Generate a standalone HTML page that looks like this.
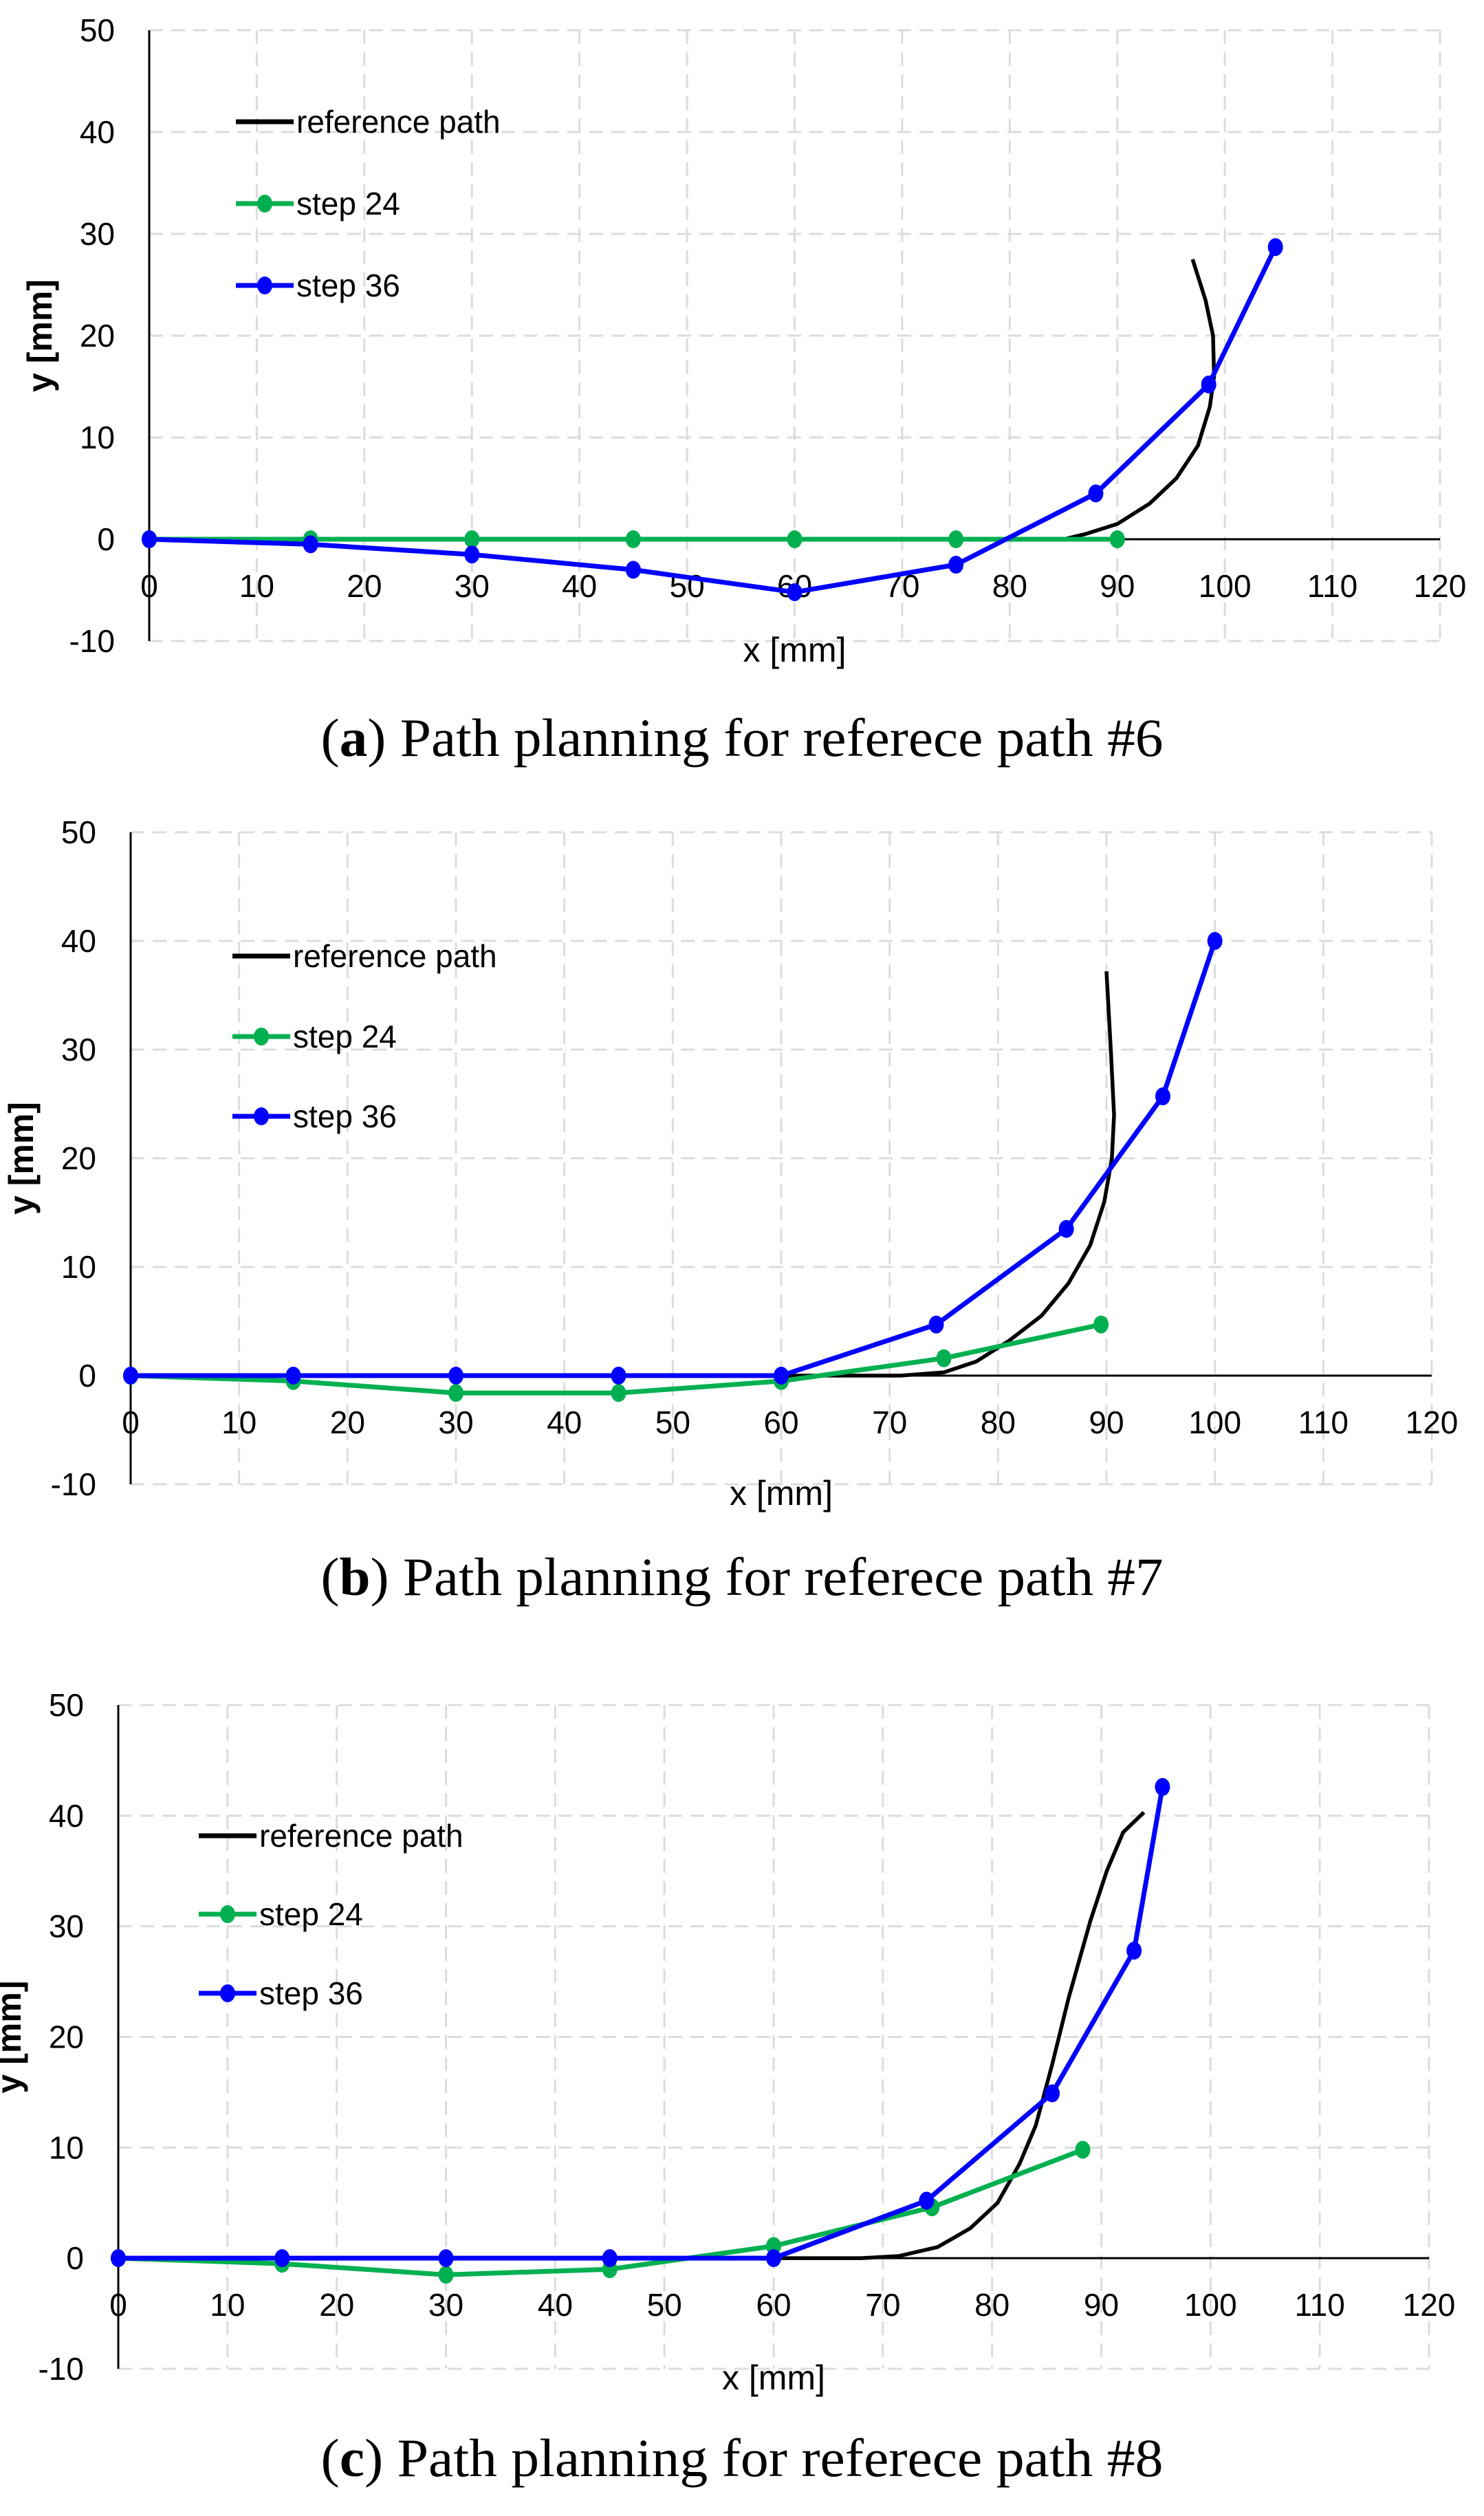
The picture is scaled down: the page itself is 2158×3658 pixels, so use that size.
<!DOCTYPE html>
<html><head><meta charset="utf-8"><style>
html,body{margin:0;padding:0;background:#fff;}
svg{display:block;}
text{font-family:"Liberation Sans",sans-serif;}
</style></head><body>
<svg id="fig" width="2158" height="3658" viewBox="0 0 2158 3658" xmlns="http://www.w3.org/2000/svg"></svg>
<script>
// Chart a data (reference path #6)
const aRefX = [0, 85, 87, 90, 93, 95.5, 97.5, 98.6, 99, 98.9, 98.2, 97];
const aRefY = [0, 0, 0.5, 1.5, 3.5, 6, 9.2, 13, 16, 20, 23.5, 27.5];
const aS24X = [0, 15, 30, 45, 60, 75, 90];
const aS24Y = [0, 0, 0, 0, 0, 0, 0];
const aS36X = [0, 15, 30, 45, 60, 75, 88, 98.5, 104.7];
const aS36Y = [0, -0.5, -1.5, -3, -5.2, -2.5, 4.5, 15.2, 28.7];
// Chart b data (reference path #7)
const bRefX = [60, 71, 75, 78, 81, 84, 86.5, 88.5, 89.8, 90.5, 90.7, 90.4, 90];
const bRefY = [0, 0, 0.3, 1.3, 3.2, 5.5, 8.5, 12, 16, 20, 24, 30, 37.2];
const bS24X = [0, 15, 30, 45, 60, 75, 89.5];
const bS24Y = [0, -0.5, -1.6, -1.6, -0.5, 1.6, 4.7];
const bS36X = [0, 15, 30, 45, 60, 74.3, 86.3, 95.2, 100];
const bS36Y = [0, 0, 0, 0, 0, 4.7, 13.5, 25.7, 40];
// Chart c data (reference path #8)
const cRefX = [60, 68, 71.5, 75, 78, 80.5, 82.5, 84, 85.5, 87, 89, 90.5, 92, 93.9];
const cRefY = [0, 0, 0.2, 1, 2.7, 5, 8.5, 12, 17.5, 23.5, 30.5, 35, 38.5, 40.3];
const cS24X = [0, 15, 30, 45, 60, 74.5, 88.3];
const cS24Y = [0, -0.5, -1.5, -1, 1.1, 4.6, 9.8];
const cS36X = [0, 15, 30, 45, 60, 74, 85.5, 93, 95.6];
const cS36Y = [0, 0, 0, 0, 0, 5.2, 14.9, 27.8, 42.6];
// Axis ticks
const xTicks = [0,10,20,30,40,50,60,70,80,90,100,110,120];
const yTicks = [-10,0,10,20,30,40,50];
const legendLabels = ["reference path","step 24","step 36"];
const captionLetters = ["a","b","c"];
const captionTexts = [") Path planning for referece path #6", ") Path planning for referece path #7", ") Path planning for referece path #8"];

const NS = "http://www.w3.org/2000/svg";
const svg = document.getElementById('fig');
function mk(tag, attrs, parent){
  const e = document.createElementNS(NS, tag);
  for (const k in attrs) e.setAttribute(k, attrs[k]);
  (parent||svg).appendChild(e);
  return e;
}
const panels = [
  {key:'a', x0:217, x1:2094, yTop:44, yBot:932, ref:[aRefX,aRefY], s24:[aS24X,aS24Y], s36:[aS36X,aS36Y], leg:[343,[177,296,415]], cap:1073},
  {key:'b', x0:190, x1:2082, yTop:1210, yBot:2158, ref:[bRefX,bRefY], s24:[bS24X,bS24Y], s36:[bS36X,bS36Y], leg:[338,[1390,1507,1623]], cap:2293},
  {key:'c', x0:172, x1:2078, yTop:2479, yBot:3444, ref:[cRefX,cRefY], s24:[cS24X,cS24Y], s36:[cS36X,cS36Y], leg:[289,[2669,2783,2898]], cap:3574}
];
panels.forEach((p, idx) => {
  const g = mk('g', {});
  
  
  const sx = v => p.x0 + (v - 0) / 120 * (p.x1 - p.x0);
  const sy = v => p.yBot - (v + 10) / 60 * (p.yBot - p.yTop);
  const grid = mk('g', {stroke:'#dcdcdc','stroke-width':3,'stroke-dasharray':'20 12',fill:'none'}, g);
  
  
  xTicks.forEach(t => { if (t>0) mk('line', {x1:sx(t),x2:sx(t),y1:sy(50),y2:sy(-10)}, grid); });
  yTicks.forEach(t => { if (t!==0) mk('line', {x1:p.x0,x2:p.x1,y1:sy(t),y2:sy(t)}, grid); });
  const yAxis = mk('line', {x1:p.x0,x2:p.x0,y1:sy(50),y2:sy(-10),stroke:'#000','stroke-width':3}, g);
  
  
  const xAxis = mk('line', {x1:p.x0,x2:p.x1,y1:sy(0),y2:sy(0),stroke:'#000','stroke-width':3}, g);
  
  
  xTicks.forEach(t => {
    const tx = mk('text', {x:sx(t), y:sy(0)+84, 'font-size':46, 'text-anchor':'middle', fill:'#000'}, g);
    tx.textContent = t;
    
    
  });
  yTicks.forEach(t => {
    const tx = mk('text', {x:p.x0-50, y:sy(t)+16, 'font-size':46, 'text-anchor':'end', fill:'#000'}, g);
    tx.textContent = t;
    
    
  });
  const xt = mk('text', {x:(p.x0+p.x1)/2, y:sy(-10)+30, 'font-size':50, 'text-anchor':'middle', fill:'#000'}, g);
  xt.textContent = 'x [mm]';
  
  
  const yc = (sy(50)+sy(-10))/2;
  const yt = mk('text', {x:0, y:0, 'font-size':50, 'font-weight':'600', 'text-anchor':'middle', fill:'#000', transform:`translate(${p.x0-142},${yc}) rotate(-90)`}, g);
  yt.textContent = 'y [mm]';
  
  
  function series(xs, ys, color, w, markers, name){
    const sg = mk('g', {}, g);
    
    
    const pts = xs.map((x,i) => sx(x)+','+sy(ys[i])).join(' ');
    mk('polyline', {points:pts, fill:'none', stroke:color, 'stroke-width':w, 'stroke-linejoin':'round'}, sg);
    if (markers) xs.forEach((x,i) => {
      const c = mk('ellipse', {cx:sx(x), cy:sy(ys[i]), rx:11, ry:13, fill:color}, sg);
      
      
    });
  }
  series(p.ref[0], p.ref[1], '#000', 5.5, false, 'reference-path-line');
  series(p.s24[0], p.s24[1], '#00b050', 7, true, 'step-24-line');
  series(p.s36[0], p.s36[1], '#0000ff', 7, true, 'step-36-line');
  const colors = ['#000','#00b050','#0000ff'];
  const lx = p.leg[0];
  p.leg[1].forEach((ly, i) => {
    const le = mk('g', {}, g);
    
    
    mk('line', {x1:lx, x2:lx+84, y1:ly, y2:ly, stroke:colors[i], 'stroke-width':7}, le);
    if (i>0) mk('ellipse', {cx:lx+42, cy:ly, rx:11, ry:13, fill:colors[i]}, le);
    const t = mk('text', {x:lx+88, y:ly+16, 'font-size':46, fill:'#000'}, le);
    t.textContent = legendLabels[i];
  });
  const cap = mk('text', {x:1079, y:p.cap+26, 'font-size':78, 'text-anchor':'middle', textLength:1225, lengthAdjust:'spacingAndGlyphs', fill:'#000', style:'font-family:"Liberation Serif",serif'}, g);
  
  
  const s1 = mk('tspan', {}, cap); s1.textContent = '(';
  const s2 = mk('tspan', {'font-weight':'bold'}, cap); s2.textContent = captionLetters[idx];
  const s3 = mk('tspan', {}, cap); s3.textContent = captionTexts[idx];
});
</script>
</body></html>
